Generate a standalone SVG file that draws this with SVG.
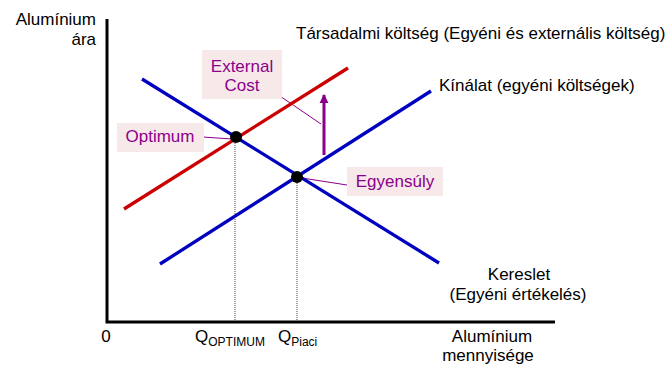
<svg xmlns="http://www.w3.org/2000/svg" width="666" height="366" viewBox="0 0 666 366">
<style>
text{font-family:"Liberation Sans",Arial,sans-serif;font-size:17px;fill:#000}
.p{fill:#8b008b}
.box{fill:#f7e9ea}
.axis{stroke:#000;stroke-width:3;fill:none}
.blue{stroke:#0000c0;stroke-width:3.3;fill:none}
.red{stroke:#cc0000;stroke-width:3.3;fill:none}
.dot{stroke:#444;stroke-width:1;stroke-dasharray:1,1;fill:none}
.lead{stroke:#8b008b;stroke-width:1;fill:none}
.sub{font-size:12px}
</style>
<defs>
<marker id="ah" viewBox="0 0 10 10" refX="9" refY="5" markerWidth="3" markerHeight="4" orient="auto" markerUnits="strokeWidth">
<path d="M0,0 L10,5 L0,10 Z" fill="#8b008b"/>
</marker>
</defs>
<g id="axes">
<path class="axis" d="M107,19 V322 H555"/>
<text x="106" y="342" text-anchor="middle">0</text>
<text x="96" y="25" text-anchor="end">Alumínium</text>
<text x="96" y="45" text-anchor="end">ára</text>
<text x="492" y="342" text-anchor="middle">Alumínium</text>
<text x="488" y="361" text-anchor="middle">mennyisége</text>
<text x="195" y="342">Q<tspan class="sub" dy="4">OPTIMUM</tspan></text>
<text x="278" y="342">Q<tspan class="sub" dy="4">Piaci</tspan></text>
</g>
<g id="connectors">
<path class="dot" d="M235,137 V321"/>
<path class="dot" d="M297,177 V321"/>
<path class="lead" d="M203,137 L232,139"/>
<path class="lead" d="M302,178 L347,185"/>
<path class="lead" d="M274,92 L321,124"/>
<path d="M324,155 V95" stroke="#8b008b" stroke-width="3" fill="none" marker-end="url(#ah)"/>
</g>
<g id="social-cost">
<path class="red" d="M124,209 L348,68"/>
<text x="296" y="39">Társadalmi költség (Egyéni és externális költség)</text>
</g>
<g id="supply">
<path class="blue" d="M160,264 L431,91"/>
<text x="439" y="91">Kínálat (egyéni költségek)</text>
</g>
<g id="demand">
<path class="blue" d="M142,79 L439,263"/>
<text x="519" y="280" text-anchor="middle">Kereslet</text>
<text x="518" y="300" text-anchor="middle">(Egyéni értékelés)</text>
</g>
<g id="external-cost">
<rect class="box" x="202" y="50" width="80" height="49"/>
<text class="p" x="242" y="72" text-anchor="middle">External</text>
<text class="p" x="242" y="91" text-anchor="middle">Cost</text>
</g>
<g id="optimum">
<circle cx="236" cy="137" r="6" fill="#000"/>
<rect class="box" x="117" y="123" width="87" height="29"/>
<text class="p" x="160" y="142" text-anchor="middle">Optimum</text>
</g>
<g id="equilibrium">
<circle cx="297" cy="177" r="6" fill="#000"/>
<rect class="box" x="347" y="167" width="96" height="29"/>
<text class="p" x="395" y="187" text-anchor="middle">Egyensúly</text>
</g>
</svg>
